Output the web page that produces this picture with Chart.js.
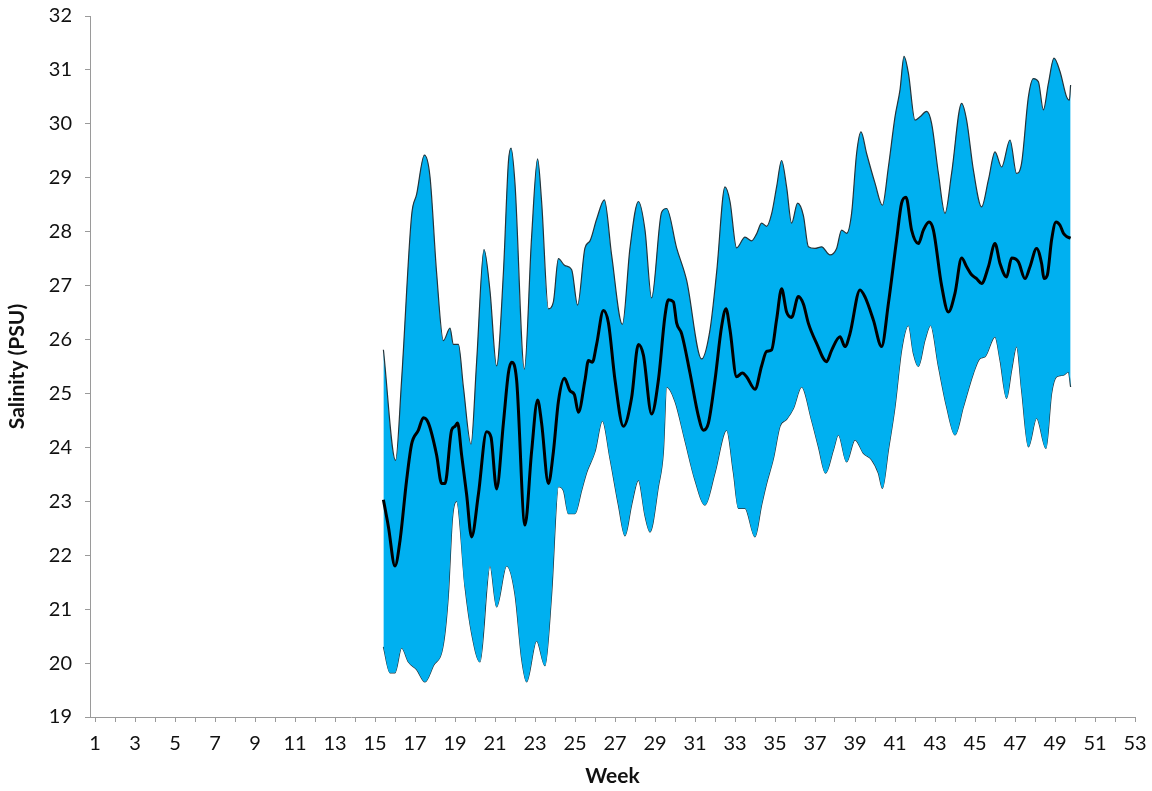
<!DOCTYPE html>
<html>
<head>
<meta charset="utf-8">
<title>Salinity by week</title>
<script src="https://cdn.jsdelivr.net/npm/chart.js@4"></script>
<style>
    html, body { margin: 0; padding: 0; background: #fff; }
    #wrap { width: 1152px; height: 791px; }
</style>
</head>
<body>
<div id="wrap"><canvas id="salinity-chart"></canvas></div>
<script>
// Values (week, PSU)

const upperWeek = [15.42, 16.03, 16.33, 16.83, 17.08, 17.47, 17.75, 18.08, 18.42, 18.75, 18.92, 19.17, 19.42, 19.80, 20.08, 20.45, 20.75, 21.08, 21.42, 21.67, 21.80, 22.00, 22.47, 22.83, 23.13, 23.33, 23.67, 23.92, 24.17, 24.50, 24.83, 25.13, 25.50, 25.75, 26.08, 26.47, 26.83, 27.37, 27.75, 28.17, 28.50, 28.83, 29.33, 29.58, 30.08, 30.58, 31.33, 31.75, 32.08, 32.50, 32.75, 33.08, 33.50, 33.83, 34.08, 34.33, 34.58, 34.83, 35.08, 35.33, 35.58, 35.83, 36.13, 36.42, 36.67, 37.00, 37.33, 37.75, 38.08, 38.33, 38.58, 38.83, 39.08, 39.30, 39.58, 40.00, 40.37, 40.67, 41.00, 41.25, 41.45, 41.67, 42.00, 42.25, 42.58, 42.83, 43.17, 43.50, 43.83, 44.33, 44.58, 44.92, 45.33, 45.67, 46.00, 46.33, 46.75, 47.08, 47.33, 47.67, 47.92, 48.17, 48.42, 48.67, 48.95, 49.25, 49.58, 49.72, 49.78];
const upperSal  = [25.81, 23.76, 25.25, 28.30, 28.69, 29.42, 29.02, 27.24, 25.98, 26.21, 25.91, 25.91, 25.12, 24.06, 25.58, 27.67, 26.90, 25.51, 27.24, 29.29, 29.55, 28.89, 25.45, 27.90, 29.35, 28.56, 26.57, 26.70, 27.50, 27.37, 27.30, 26.64, 27.70, 27.83, 28.23, 28.59, 27.57, 26.28, 27.70, 28.56, 28.03, 26.77, 28.36, 28.43, 27.70, 27.10, 25.64, 26.18, 27.24, 28.83, 28.56, 27.70, 27.90, 27.83, 27.96, 28.16, 28.10, 28.33, 28.83, 29.32, 28.83, 28.16, 28.53, 28.30, 27.72, 27.69, 27.72, 27.57, 27.69, 28.03, 27.97, 28.34, 29.45, 29.85, 29.45, 28.90, 28.49, 29.20, 30.13, 30.63, 31.25, 30.94, 30.07, 30.13, 30.23, 30.01, 29.08, 28.34, 29.08, 30.38, 30.07, 29.14, 28.46, 28.96, 29.48, 29.20, 29.70, 29.08, 29.27, 30.50, 30.84, 30.78, 30.26, 30.75, 31.22, 30.97, 30.50, 30.44, 30.72];

const lowerWeek = [15.42, 15.75, 16.00, 16.33, 16.67, 17.08, 17.50, 17.92, 18.42, 18.67, 18.87, 19.08, 19.50, 19.83, 20.25, 20.75, 21.08, 21.58, 22.00, 22.33, 22.58, 23.08, 23.50, 23.83, 24.17, 24.42, 24.67, 25.00, 25.33, 25.58, 26.00, 26.37, 26.75, 27.17, 27.50, 27.83, 28.17, 28.50, 28.75, 29.17, 29.42, 29.58, 30.00, 30.50, 31.00, 31.50, 32.00, 32.58, 32.92, 33.17, 33.50, 34.00, 34.33, 34.58, 34.92, 35.25, 35.58, 35.92, 36.33, 36.83, 37.17, 37.53, 37.92, 38.17, 38.58, 39.00, 39.42, 39.83, 40.17, 40.37, 40.67, 41.00, 41.33, 41.67, 41.92, 42.17, 42.50, 42.78, 43.17, 43.58, 44.00, 44.42, 44.92, 45.25, 45.50, 46.00, 46.25, 46.58, 46.83, 47.08, 47.33, 47.67, 48.08, 48.55, 48.83, 49.08, 49.42, 49.67, 49.78];
const lowerSal  = [20.30, 19.82, 19.82, 20.28, 20.02, 19.88, 19.65, 19.95, 20.35, 21.27, 22.67, 23.00, 21.41, 20.55, 20.02, 21.80, 21.04, 21.80, 21.27, 20.08, 19.65, 20.41, 19.95, 21.27, 23.27, 23.20, 22.77, 22.77, 23.20, 23.53, 23.92, 24.49, 23.79, 22.93, 22.36, 22.93, 23.39, 22.73, 22.43, 23.27, 23.92, 25.12, 24.85, 24.12, 23.39, 22.93, 23.53, 24.32, 23.53, 22.87, 22.87, 22.34, 22.93, 23.33, 23.79, 24.39, 24.52, 24.72, 25.12, 24.50, 24.01, 23.52, 23.95, 24.23, 23.73, 24.14, 23.89, 23.77, 23.52, 23.24, 23.95, 24.75, 25.80, 26.26, 25.74, 25.50, 25.99, 26.26, 25.50, 24.75, 24.23, 24.75, 25.37, 25.65, 25.68, 26.05, 25.62, 24.91, 25.43, 25.87, 25.06, 24.01, 24.54, 23.98, 25.00, 25.31, 25.34, 25.40, 25.12];

const meanWeek = [15.42, 15.67, 16.00, 16.25, 16.58, 16.83, 17.17, 17.42, 17.67, 18.08, 18.33, 18.50, 18.83, 19.00, 19.13, 19.33, 19.58, 19.83, 20.17, 20.58, 20.80, 21.08, 21.42, 21.67, 21.83, 22.08, 22.50, 22.83, 23.13, 23.33, 23.67, 23.92, 24.17, 24.47, 24.75, 24.97, 25.17, 25.50, 25.67, 25.87, 26.08, 26.42, 26.67, 27.00, 27.42, 27.83, 28.17, 28.42, 28.83, 29.17, 29.50, 29.67, 29.92, 30.08, 30.33, 30.75, 31.17, 31.42, 31.67, 32.00, 32.33, 32.55, 32.75, 33.08, 33.37, 33.58, 34.00, 34.33, 34.58, 34.83, 35.08, 35.33, 35.58, 35.83, 36.17, 36.42, 36.67, 37.08, 37.58, 37.83, 38.25, 38.50, 38.75, 39.25, 39.50, 39.92, 40.33, 40.67, 41.08, 41.33, 41.55, 41.83, 42.17, 42.42, 42.70, 42.92, 43.33, 43.67, 44.00, 44.33, 44.58, 44.83, 45.08, 45.33, 45.67, 46.00, 46.25, 46.58, 46.83, 47.17, 47.50, 47.75, 48.08, 48.33, 48.45, 48.62, 48.83, 49.05, 49.25, 49.42, 49.58, 49.78];
const meanSal  = [23.03, 22.53, 21.80, 22.27, 23.39, 24.06, 24.32, 24.55, 24.45, 23.86, 23.33, 23.33, 24.32, 24.39, 24.45, 23.86, 23.13, 22.34, 23.13, 24.29, 24.19, 23.23, 24.45, 25.38, 25.58, 25.25, 22.56, 23.92, 24.88, 24.45, 23.33, 23.92, 24.85, 25.28, 25.05, 24.98, 24.65, 25.25, 25.61, 25.58, 25.91, 26.54, 26.31, 25.25, 24.39, 24.92, 25.91, 25.71, 24.62, 25.25, 26.44, 26.74, 26.70, 26.31, 26.11, 25.38, 24.58, 24.32, 24.45, 25.25, 26.24, 26.57, 26.18, 25.31, 25.38, 25.31, 25.08, 25.51, 25.78, 25.81, 26.37, 26.94, 26.51, 26.41, 26.80, 26.66, 26.30, 25.93, 25.59, 25.80, 26.05, 25.87, 26.11, 26.92, 26.79, 26.36, 25.87, 26.67, 27.85, 28.53, 28.64, 28.03, 27.78, 28.03, 28.18, 28.03, 27.00, 26.51, 26.86, 27.51, 27.35, 27.20, 27.13, 27.04, 27.35, 27.78, 27.41, 27.16, 27.51, 27.44, 27.13, 27.35, 27.69, 27.41, 27.13, 27.20, 27.85, 28.18, 28.12, 27.97, 27.91, 27.88];

// Axis labels
const weekLabels = [1, 3, 5, 7, 9, 11, 13, 15, 17, 19, 21, 23, 25, 27, 29, 31, 33, 35, 37, 39, 41, 43, 45, 47, 49, 51, 53];
const weekMin = 0.75, weekMax = 53;
const salMin = 19, salMax = 32;

function toPoints(xs, ys) {
    return xs.map((x, i) => ({ x: x, y: ys[i] }));
}

const axisColor = '#9a9a9a';
const fontFamily = 'Lato, "Open Sans", sans-serif';
const labelFont = { family: fontFamily, size: 20 };
const titleFont = { family: fontFamily, size: 21, weight: 'bold' };

var ctx = document.getElementById('salinity-chart');

new Chart(ctx, {
    type: 'line',
    data: {
        datasets: [
            {
                label: 'Mean',
                data: toPoints(meanWeek, meanSal),
                borderColor: '#000',
                borderWidth: 3,
                pointRadius: 0,
                cubicInterpolationMode: 'monotone',
                fill: false
            },
            {
                label: 'Upper',
                data: toPoints(upperWeek, upperSal),
                borderColor: '#24343a',
                borderWidth: 1.2,
                backgroundColor: 'rgb(0, 176, 240)',
                pointRadius: 0,
                cubicInterpolationMode: 'monotone',
                fill: '+1'
            },
            {
                label: 'Lower',
                data: toPoints(lowerWeek, lowerSal),
                borderColor: '#24343a',
                borderWidth: 1.2,
                pointRadius: 0,
                cubicInterpolationMode: 'monotone',
                fill: false
            }
        ]
    },
    options: {
        responsive: true,
        maintainAspectRatio: false,
        animation: false,
        layout: {
            padding: { left: 0, right: 17, top: 16, bottom: 0 }
        },
        plugins: {
            legend: { display: false },
            tooltip: { enabled: false }
        },
        scales: {
            x: {
                type: 'linear',
                min: weekMin,
                max: weekMax,
                afterBuildTicks: function(scale) {
                    var ticks = [];
                    for (var w = 1; w <= weekMax; w++) ticks.push({ value: w });
                    scale.ticks = ticks;
                },
                afterFit: function(scale) {
                    scale.height = 74;
                    scale.paddingLeft = 0;
                    scale.paddingRight = 0;
                },
                ticks: {
                    autoSkip: false,
                    maxRotation: 0,
                    padding: 10,
                    color: '#111',
                    font: labelFont,
                    callback: function(value) {
                        return weekLabels.includes(value) ? String(value) : '';
                    }
                },
                grid: {
                    drawOnChartArea: false,
                    tickLength: 5,
                    color: axisColor
                },
                border: { color: axisColor },
                title: {
                    display: true,
                    text: 'Week',
                    color: '#111',
                    font: titleFont,
                    padding: { top: 0, bottom: 2 }
                }
            },
            y: {
                min: salMin,
                max: salMax,
                afterFit: function(scale) {
                    scale.width = 90;
                    scale.paddingTop = 0;
                    scale.paddingBottom = 0;
                },
                ticks: {
                    stepSize: 1,
                    padding: 13,
                    color: '#111',
                    font: labelFont
                },
                grid: {
                    drawOnChartArea: false,
                    tickLength: 5,
                    color: axisColor
                },
                border: { color: axisColor },
                title: {
                    display: true,
                    text: 'Salinity (PSU)',
                    color: '#111',
                    font: { family: fontFamily, size: 21, weight: 'bold' },
                    padding: { top: 5, bottom: 0 }
                }
            }
        }
    }
});
</script>
</body>
</html>
